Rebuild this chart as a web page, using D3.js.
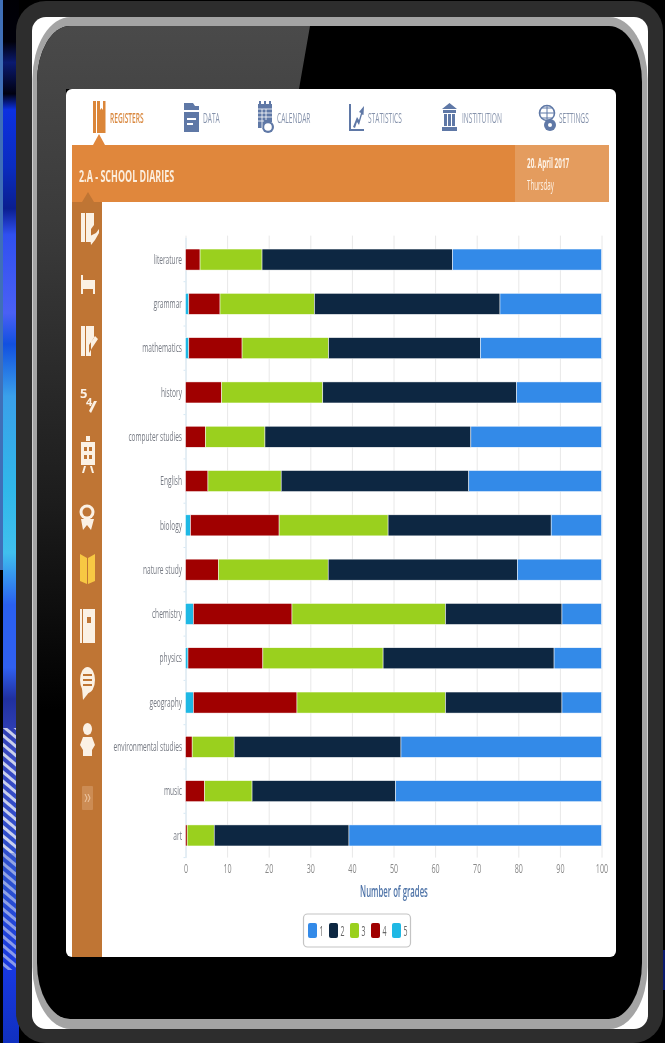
<!DOCTYPE html>
<html>
<head>
<meta charset="utf-8">
<script src="https://cdn.jsdelivr.net/npm/d3@7"></script>
<style>
  html, body { margin: 0; padding: 0; background: #000; overflow: hidden; }
  svg { display: block; font-family: "Open Sans", sans-serif; }
  svg text { filter: blur(0.35px); }
</style>
</head>
<body>
<div id="chart"></div>
<script>
// chart data (percent of grades per subject)
var subjects = ["literature", "grammar", "mathematics", "history", "computer studies", "English", "biology",
  "nature study", "chemistry", "physics", "geography", "environmental studies", "music", "art"];
var grade5 = [0, 0.8, 0.8, 0, 0, 0, 1.2, 0, 1.9, 0.6, 1.9, 0, 0, 0];
var grade4 = [3.5, 7.5, 12.8, 8.7, 4.8, 5.4, 21.3, 7.9, 23.7, 18, 24.9, 1.6, 4.6, 0.4];
var grade3 = [14.9, 22.7, 20.8, 24.3, 14.3, 17.6, 26.2, 26.4, 36.9, 28.9, 35.7, 10.1, 11.4, 6.5];
var grade2 = [45.8, 44.6, 36.5, 46.6, 49.5, 45.1, 39.2, 45.5, 28, 41.1, 28, 40.1, 34.5, 32.4];
var grade1 = [35.8, 24.4, 29.1, 20.4, 31.4, 31.9, 12.1, 20.2, 9.5, 11.4, 9.5, 48.2, 49.5, 60.7];
var gradeNames = ["1", "2", "3", "4", "5"];
var gradeColors = ["#338ae8", "#0d2742", "#9ad01e", "#a00000", "#1fb8e4"];
var xTicks = [0, 10, 20, 30, 40, 50, 60, 70, 80, 90, 100];
var menuItems = ["REGISTERS", "DATA", "CALENDAR", "STATISTICS", "INSTITUTION", "SETTINGS"];

var W = 665, H = 1043;
var svg = d3.select("#chart").append("svg").attr("width", W).attr("height", H);
var defs = svg.append("defs");

// squeeze text horizontally, the whole screenshot is narrowed
function narrow(sel, k) {
  sel.each(function () {
    var len = this.getComputedTextLength();
    d3.select(this).attr("textLength", len * k).attr("lengthAdjust", "spacingAndGlyphs");
  });
}

// background strip on the left
var bg = defs.append("linearGradient").attr("id", "bgStrip").attr("x1", 0).attr("x2", 0).attr("y1", 0).attr("y2", 1);
[[0, "#000005"], [0.04, "#00000a"], [0.06, "#0a1a70"], [0.09, "#000010"], [0.105, "#0c30e0"], [0.16, "#0a2cc0"],
 [0.2, "#0a1e90"], [0.225, "#3050f0"], [0.3, "#4a60f5"], [0.33, "#1250e0"], [0.38, "#3aa0ea"], [0.47, "#30b8ea"],
 [0.53, "#40c0ee"], [0.58, "#2a60f0"], [0.64, "#3060f0"], [0.67, "#2030a0"], [0.72, "#3848c0"], [0.85, "#2a50d0"],
 [0.93, "#1838e0"], [1, "#1030c0"]].forEach(function (s) {
  bg.append("stop").attr("offset", s[0]).attr("stop-color", s[1]);
});
var stripes = defs.append("pattern").attr("id", "stripes").attr("width", 7).attr("height", 7)
  .attr("patternUnits", "userSpaceOnUse").attr("patternTransform", "rotate(40)");
stripes.append("rect").attr("width", 7).attr("height", 3).attr("fill", "#e4e8f4");

svg.append("rect").attr("width", W).attr("height", H).attr("fill", "#000");
svg.append("rect").attr("x", 3).attr("y", 0).attr("width", 16).attr("height", H).attr("fill", "url(#bgStrip)");
svg.append("rect").attr("x", 0).attr("y", 0).attr("width", 3).attr("height", 570).attr("fill", "#3f6fb8");
svg.append("rect").attr("x", 3).attr("y", 728).attr("width", 16).attr("height", 125).attr("fill", "url(#stripes)").attr("opacity", 0.85);
svg.append("rect").attr("x", 3).attr("y", 853).attr("width", 16).attr("height", 117).attr("fill", "url(#stripes)").attr("opacity", 0.55);
svg.append("rect").attr("x", 660).attr("y", 950).attr("width", 5).attr("height", 40).attr("fill", "#0a1a70");

// tablet body
svg.append("rect").attr("x", 16).attr("y", 1).attr("width", 647).attr("height", 1042).attr("rx", 30).attr("fill", "#2d2d2d");
svg.append("rect").attr("x", 32).attr("y", 17).attr("width", 616).attr("height", 1012).attr("rx", 14).attr("fill", "#fff");
svg.append("rect").attr("x", 32.5).attr("y", 17).attr("width", 615).attr("height", 1012).attr("rx", 38).attr("ry", 62).attr("fill", "#a4a4a4");
svg.append("rect").attr("x", 37).attr("y", 26).attr("width", 605).attr("height", 993).attr("rx", 33).attr("ry", 56).attr("fill", "#000");

// glare on the screen
var glare = defs.append("linearGradient").attr("id", "glare").attr("x1", 0).attr("x2", 0).attr("y1", 0).attr("y2", 1);
glare.append("stop").attr("offset", 0).attr("stop-color", "#4a4a4a");
glare.append("stop").attr("offset", 0.3).attr("stop-color", "#3a3a3a");
glare.append("stop").attr("offset", 0.7).attr("stop-color", "#1c1c1c");
glare.append("stop").attr("offset", 1).attr("stop-color", "#000");
defs.append("clipPath").attr("id", "screen").append("rect")
  .attr("x", 37).attr("y", 26).attr("width", 605).attr("height", 993).attr("rx", 33).attr("ry", 56);
svg.append("path").attr("clip-path", "url(#screen)").attr("fill", "url(#glare)")
  .attr("d", "M37,26H310L299,89H66V710H37Z");

// app card
svg.append("rect").attr("x", 66).attr("y", 89).attr("width", 550).attr("height", 868).attr("rx", 6).attr("fill", "#fff");

// top bar
svg.append("rect").attr("x", 72).attr("y", 145).attr("width", 537).attr("height", 57).attr("fill", "#e0873c");
svg.append("rect").attr("x", 515).attr("y", 145).attr("width", 94).attr("height", 57).attr("fill", "#e49c5e");
svg.append("path").attr("d", "M93,145L99,134L105,145Z").attr("fill", "#e0873c");
svg.append("text").attr("x", 79).attr("y", 182).attr("fill", "#fbeede").attr("font-size", 16).attr("font-weight", 700)
  .text("2.A - SCHOOL DIARIES").call(narrow, 0.56);
svg.append("text").attr("x", 527).attr("y", 168).attr("fill", "#fdf2e6").attr("font-size", 14).attr("font-weight", 700)
  .text("20. April 2017").call(narrow, 0.455);
svg.append("text").attr("x", 527).attr("y", 190).attr("fill", "#fdf2e6").attr("font-size", 14)
  .text("Thursday").call(narrow, 0.444);

// menu
var menuX = [110, 203, 277, 368, 462, 559];
svg.selectAll(".menu").data(menuItems).enter().append("text")
  .attr("class", "menu")
  .attr("x", function (d, i) { return menuX[i]; })
  .attr("y", 122.5)
  .attr("font-size", 15)
  .attr("fill", function (d, i) { return i == 0 ? "#d9883f" : "#8592ab"; })
  .attr("font-weight", function (d, i) { return i == 0 ? 600 : 400; })
  .text(function (d) { return d; })
  .each(function () { d3.select(this).call(narrow, 0.44); });

var navBlue = "#5f78a6";
// registers icon
svg.append("path").attr("fill", "#db8639").attr("d", "M93,101H96V133H93ZM97,101H100V110L101.5,108L103,110V101H105.5V133H97Z");
// data icon
svg.append("path").attr("fill", navBlue).attr("d", "M184,103H193L195,106H199V110H184ZM184,112H199V132H184Z");
svg.append("path").attr("fill", "#fff").attr("d", "M187,118H196V120H187ZM187,123H193V125H187Z");
// calendar icon
svg.append("path").attr("fill", navBlue).attr("d", "M259,101H261V104H264V101H266V104H269V101H271V104H272V122H265V128H258V104H259Z");
svg.append("circle").attr("cx", 268).attr("cy", 127).attr("r", 6).attr("fill", navBlue);
svg.append("circle").attr("cx", 268).attr("cy", 127).attr("r", 3.8).attr("fill", "#fff");
svg.append("path").attr("stroke", "#fff").attr("stroke-width", 0.8).attr("fill", "none").attr("d", "M258,109H272M262,109V128M266,109V120M258,113H272M258,117H272M258,121H264");
// statistics icon
svg.append("path").attr("fill", navBlue).attr("d", "M349,104H351V129H364V131H349Z");
svg.append("path").attr("fill", navBlue).attr("d", "M353,127L357,117L359,120L361,113L359,112L364,106L363.5,115L362,114.5L359,125L357,122L355,128Z");
// institution icon
svg.append("path").attr("fill", navBlue).attr("d", "M449.5,103L457,109H442ZM443,110H456V113H443ZM444,114H447V126H444ZM448,114H451V126H448ZM452,114H455V126H452ZM442,127H457V131H442Z");
// settings icon
svg.append("circle").attr("cx", 547).attr("cy", 113).attr("r", 7.5).attr("fill", "none").attr("stroke", navBlue).attr("stroke-width", 1.6);
svg.append("path").attr("fill", "none").attr("stroke", navBlue).attr("d", "M540,113H554M547,106V120M542,108H552M542,118H552");
svg.append("circle").attr("cx", 550).attr("cy", 125).attr("r", 6).attr("fill", navBlue);
svg.append("circle").attr("cx", 550).attr("cy", 125).attr("r", 2).attr("fill", "#fff");

// side bar
svg.append("rect").attr("x", 72).attr("y", 202).attr("width", 30).attr("height", 755).attr("fill", "#bf7534");
svg.append("path").attr("d", "M82,202L88,192L94,202Z").attr("fill", "#bf7534");
var ic = "#fbf1e4";
var side = svg.append("g").attr("fill", ic);
side.append("path").attr("d", "M81,213H85V242H81ZM86,213H94V225L91,229V242H86ZM90,236L96,233L99,229V233L95,240L91,245Z");
side.append("path").attr("d", "M81,275H83V280H95V294H93V289H83V294H81ZM86,281H94V285H86Z");
side.append("path").attr("d", "M81,326H85V356H81ZM86,326H94V338L91,342V356H86ZM92,348L98,339L95,336L89,345V353Z");
svg.append("text").attr("x", 80).attr("y", 398).attr("fill", ic).attr("font-size", 13).attr("font-weight", 700).text("5");
svg.append("text").attr("x", 86).attr("y", 406).attr("fill", ic).attr("font-size", 11).attr("font-weight", 700).text("4");
side.append("path").attr("d", "M91,413L97,401L94,401L89,411Z");
side.append("path").attr("d", "M81,442H95V465H81ZM86,436H90V441H86ZM84,466L82,473H84L86,466ZM90,466L92,473H94L92,466Z");
svg.append("path").attr("fill", "#bf7534").attr("d", "M84,447H87V451H84ZM89,447H92V451H89ZM84,455H87V459H84ZM89,455H92V459H89Z");
side.append("circle").attr("cx", 87).attr("cy", 512).attr("r", 7.5);
svg.append("circle").attr("cx", 87).attr("cy", 512).attr("r", 4.5).attr("fill", "#bf7534");
side.append("path").attr("d", "M81,519L83,530L87,525L91,530L94,519Z");
svg.append("path").attr("fill", "#f7c843").attr("d", "M80,554L87,558V584L80,581ZM95,554L88,558V584L95,581Z");
side.append("path").attr("d", "M80,609H82V643H80ZM83,609H95V643H83Z");
svg.append("rect").attr("x", 87).attr("y", 617).attr("width", 4).attr("height", 6).attr("fill", "#bf7534");
side.append("ellipse").attr("cx", 87.5).attr("cy", 680).attr("rx", 7.5).attr("ry", 13);
side.append("path").attr("d", "M82,688L83,700L90,691Z");
svg.append("path").attr("stroke", "#bf7534").attr("stroke-width", 1.8).attr("d", "M83,675H92M83,680H92M83,685H92");
side.append("ellipse").attr("cx", 87.5).attr("cy", 729).attr("rx", 4.5).attr("ry", 6);
side.append("path").attr("d", "M83,737H92L95,745L92,750V756H83V750L80,745Z");
svg.append("rect").attr("x", 82).attr("y", 786).attr("width", 11).attr("height", 24).attr("rx", 1).attr("fill", "#cc8c54");
svg.append("path").attr("fill", "none").attr("stroke", "#efc9a6").attr("d", "M85,794L87,798L85,802M88,794L90,798L88,802");

// stacked bars
var keys = ["g5", "g4", "g3", "g2", "g1"];
var rows = subjects.map(function (s, i) {
  return { subject: s, g5: grade5[i], g4: grade4[i], g3: grade3[i], g2: grade2[i], g1: grade1[i] };
});
var x = d3.scaleLinear().domain([0, 100]).range([185.5, 601.5]);
var y = d3.scaleBand().domain(subjects).range([237.4, 857.6]).paddingInner(0.525).paddingOuter(0.2625);
var color = d3.scaleOrdinal().domain(["g1", "g2", "g3", "g4", "g5"]).range(gradeColors);

// x axis with grid lines
var xAxis = svg.append("g").attr("transform", "translate(0,857.6)")
  .call(d3.axisBottom(x).tickValues(xTicks).tickSize(0).tickPadding(6));
xAxis.select(".domain").remove();
xAxis.selectAll(".tick line").attr("y1", -622).attr("y2", 0).attr("stroke", "#e8e8e8");
xAxis.selectAll("text").attr("fill", "#888").attr("font-size", 13).attr("font-family", "Open Sans").call(narrow, 0.55);

// y axis
var yAxis = svg.append("g").attr("transform", "translate(185.5,0)")
  .call(d3.axisLeft(y).tickSize(0).tickPadding(3.5));
yAxis.select(".domain").attr("stroke", "#d6e8f4");
yAxis.selectAll("text").attr("fill", "#777b84").attr("font-size", 13).attr("font-family", "Open Sans").call(narrow, 0.505);
// little marks between the bands
yAxis.selectAll(".band-mark").data(subjects).enter().append("line")
  .attr("class", "band-mark")
  .attr("x1", -2).attr("x2", 0)
  .attr("y1", function (d) { return y(d) + y.bandwidth() + y.step() * y.paddingInner() / 2; })
  .attr("y2", function (d) { return y(d) + y.bandwidth() + y.step() * y.paddingInner() / 2; })
  .attr("stroke", "#d6e8f4");

var stack = d3.stack().keys(keys)(rows);
svg.append("g").selectAll("g").data(stack).enter().append("g")
  .attr("fill", function (d) { return color(d.key); })
  .selectAll("rect").data(function (d) { return d; }).enter().append("rect")
  .attr("x", function (d) { return x(d[0]); })
  .attr("y", function (d) { return y(d.data.subject); })
  .attr("width", function (d) { return x(d[1]) - x(d[0]); })
  .attr("height", y.bandwidth())
  .attr("stroke", "#fff").attr("stroke-width", 0.5);

svg.append("text").attr("x", 394).attr("y", 897).attr("text-anchor", "middle")
  .attr("fill", "#4f74a8").attr("font-size", 15.5).attr("font-weight", 600)
  .text("Number of grades").call(narrow, 0.5);

// legend
svg.append("rect").attr("x", 303.5).attr("y", 914).attr("width", 107).attr("height", 33).attr("rx", 4)
  .attr("fill", "#fff").attr("stroke", "#c4c4c4").attr("stroke-width", 1.2);
var legend = svg.selectAll(".leg").data(gradeNames).enter().append("g")
  .attr("class", "leg")
  .attr("transform", function (d, i) { return "translate(" + (308 + i * 21) + ",923)"; });
legend.append("rect").attr("width", 9).attr("height", 15).attr("rx", 2)
  .attr("fill", function (d, i) { return gradeColors[i]; });
legend.append("text").attr("x", 11.5).attr("y", 13).attr("fill", "#666").attr("font-size", 14)
  .text(function (d) { return d; }).call(narrow, 0.5);
</script>
</body>
</html>
